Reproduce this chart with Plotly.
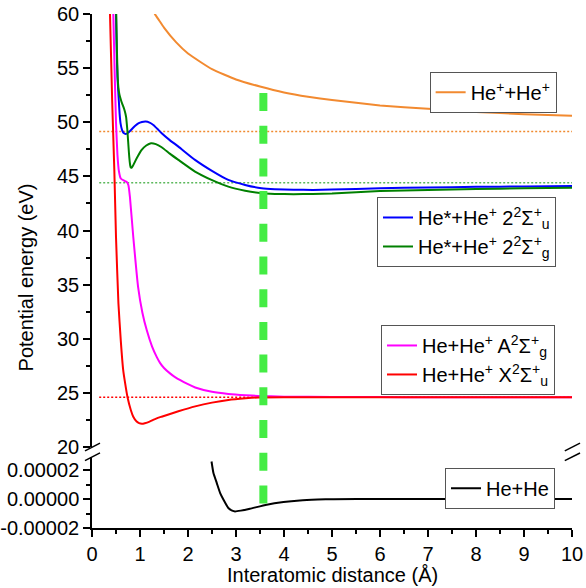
import plotly.graph_objects as go

# ---------------- data ----------------
# He+ + He+
x_ii = [1.25, 1.31, 1.4, 1.5, 1.75, 2.0, 2.5, 3.0, 3.5, 4.0, 4.5, 5.0, 6.0, 7.0, 8.0, 9.0, 10.0]
e_ii = [60.7, 60.0, 59.4, 58.75, 57.4, 56.35, 54.9, 53.95, 53.3, 52.75, 52.35, 52.05, 51.55, 51.25, 50.95, 50.75, 50.6]

# He* + He+ 2 2Sigma_u+
x_u2 = [0.49, 0.50, 0.515, 0.53, 0.545, 0.56, 0.575, 0.595, 0.625, 0.66, 0.702, 0.76, 0.827, 0.90, 0.965, 1.04, 1.118,
        1.20, 1.278, 1.36, 1.452, 1.62, 1.80, 2.146, 2.49, 2.84, 3.19, 3.535, 3.81, 4.2, 4.6, 5.0, 6.0, 7.0, 8.0, 9.0, 10.0]
e_u2 = [63, 60, 56.5, 54.2, 53.0, 51.9, 50.8, 49.9, 49.3, 49.0, 48.92, 49.05, 49.35, 49.68, 49.9, 50.02, 50.06,
        49.97, 49.75, 49.4, 48.98, 48.35, 47.75, 46.52, 45.53, 44.67, 44.21, 43.9, 43.81, 43.76, 43.75, 43.78, 43.9, 43.98, 44.03, 44.07, 44.1]

# He* + He+ 2 2Sigma_g+
x_g2 = [0.49, 0.505, 0.52, 0.535, 0.55, 0.57, 0.60, 0.63, 0.66, 0.685, 0.71, 0.736, 0.77, 0.79, 0.806, 0.825, 0.85,
        0.896, 0.96, 1.035, 1.13, 1.229, 1.33, 1.452, 1.62, 1.80, 2.146, 2.49, 2.84, 3.19, 3.535, 3.81, 4.2, 4.6,
        5.0, 6.0, 7.0, 8.0, 9.0, 10.0]
e_g2 = [63, 60, 56.5, 54.2, 53.2, 52.6, 52.1, 51.7, 51.35, 51.0, 50.5, 49.29, 47.14, 46.2, 45.81, 45.8, 45.95,
        46.36, 46.9, 47.44, 47.85, 48.06, 47.98, 47.69, 47.1, 46.52, 45.44, 44.67, 44.05, 43.68, 43.44, 43.38, 43.36, 43.38,
        43.42, 43.65, 43.75, 43.83, 43.9, 43.96]

# He + He+ A 2Sigma_g+
x_a = [0.42, 0.444, 0.47, 0.50, 0.53, 0.56, 0.60, 0.67, 0.72, 0.757, 0.79, 0.86, 0.96, 1.05, 1.14, 1.25,
       1.35, 1.42, 1.5, 1.625, 1.73, 2.0, 2.15, 2.5, 2.84, 3.2, 3.46, 4.0, 5.0, 6.0, 7.0, 8.0, 9.0, 10.0]
e_a = [63, 60, 55, 50, 47, 45.5, 44.8, 44.6, 44.5, 44.2, 43.1, 39.4, 34.8, 32.4, 30.8, 29.3,
       28.3, 27.75, 27.3, 26.8, 26.45, 25.8, 25.5, 25.1, 24.9, 24.78, 24.72, 24.65, 24.62, 24.61, 24.6, 24.6, 24.6, 24.6]

# He + He+ X 2Sigma_u+
x_x = [0.35, 0.375, 0.42, 0.465, 0.50, 0.55, 0.60, 0.65, 0.69, 0.74, 0.81, 0.86, 0.93, 0.98, 1.04, 1.10, 1.2, 1.3,
       1.45, 1.8, 2.15, 2.5, 2.84, 3.2, 3.46, 4.0, 5.0, 6.0, 7.0, 8.0, 9.0, 10.0]
e_x = [63, 60, 52, 45.6, 39.4, 33.3, 29.8, 27.1, 25.9, 24.6, 23.4, 22.8, 22.35, 22.2, 22.15, 22.2, 22.35, 22.55,
       22.8, 23.3, 23.75, 24.1, 24.35, 24.5, 24.58, 24.6, 24.6, 24.6, 24.6, 24.6, 24.6, 24.6]

# He + He (lower panel)
x_hh = [2.49, 2.53, 2.60, 2.67, 2.74, 2.84, 2.92, 2.98, 3.1, 3.29, 3.64, 3.99, 4.33, 4.7, 5.03, 6.0, 7.0, 8.0, 9.0, 10.0]
e_hh = [2.59e-5, 1.79e-5, 1.10e-5, 0.41e-5, -0.05e-5, -0.62e-5, -0.8e-5, -0.855e-5, -0.8e-5, -0.67e-5,
        -0.39e-5, -0.21e-5, -0.10e-5, -0.04e-5, -0.01e-5, 0, 0, 0, 0, 0]

# asymptotic levels (dotted) and marked distance (dashed)
levels = [49.15, 44.4, 24.6]
level_colors = ["#f08a30", "#5cb85c", "#ff0000"]
level_x = [0.15, 10.0]
r_mark = 3.57

names = [
    "He<sup>+</sup>+He<sup>+</sup>",
    "He*+He<sup>+</sup> 2<sup>2</sup>Σ<sup>+</sup><sub>u</sub>",
    "He*+He<sup>+</sup> 2<sup>2</sup>Σ<sup>+</sup><sub>g</sub>",
    "He+He<sup>+</sup> A<sup>2</sup>Σ<sup>+</sup><sub>g</sub>",
    "He+He<sup>+</sup> X<sup>2</sup>Σ<sup>+</sup><sub>u</sub>",
    "He+He",
]
colors = ["#f28a30", "#0000ff", "#008000", "#ff00ff", "#ff0000", "#000000"]

x_ticks = [0, 1, 2, 3, 4, 5, 6, 7, 8, 9, 10]
low_tickvals = [-2e-5, 0, 2e-5]
low_ticktext = ["-0.00002", "0.00000", "0.00002"]

FONT = "Liberation Sans, Arial, sans-serif"

# ---------------- figure ----------------
fig = go.Figure()
series = [
    (x_ii, e_ii, "y", "legend"),
    (x_u2, e_u2, "y", "legend2"),
    (x_g2, e_g2, "y", "legend2"),
    (x_a, e_a, "y", "legend3"),
    (x_x, e_x, "y", "legend3"),
    (x_hh, e_hh, "y2", "legend4"),
]
for (xs, ys, ya, lg), nm, c in zip(series, names, colors):
    fig.add_trace(go.Scatter(x=xs, y=ys, xaxis="x", yaxis=ya, mode="lines", name=nm,
                             legend=lg, line=dict(color=c, width=2, shape="spline", smoothing=0.4)))

H_TOP_DOMAIN = [0.1576, 1.0]
H_LOW_DOMAIN = [0.0, 0.1381]

axis_common = dict(showgrid=False, zeroline=False, showline=True, linecolor="black", linewidth=1.5,
                   tickcolor="black", tickwidth=1.5, automargin=False,
                   tickfont=dict(family=FONT, size=20, color="black"))

fig.update_layout(
    width=586, height=588, autosize=False,
    margin=dict(l=92, r=14, t=14, b=60, autoexpand=False),
    paper_bgcolor="white", plot_bgcolor="white",
    font=dict(family=FONT, size=20, color="black"),
    xaxis=dict(range=[0, 10], anchor="y2", domain=[0, 1], tickmode="array", tickvals=x_ticks,
               ticks="outside", ticklen=7,
               minor=dict(ticks="outside", ticklen=4, dtick=0.5, tick0=0, tickcolor="black", tickwidth=1.5),
               **axis_common),
    xaxis2=dict(range=[0, 10], overlaying="x", anchor="y", side="top", ticks="inside", ticklen=6,
                dtick=0.5, tick0=0, showticklabels=False, **axis_common),
    yaxis=dict(range=[20, 60], domain=H_TOP_DOMAIN, anchor="x", dtick=5, tick0=0, ticks="outside", ticklen=7,
               minor=dict(ticks="outside", ticklen=4, dtick=2.5, tick0=0, tickcolor="black", tickwidth=1.5),
               **axis_common),
    yaxis2=dict(range=[-2e-5, 2.9e-5], domain=H_LOW_DOMAIN, anchor="x", tickmode="array",
                tickvals=low_tickvals, ticktext=low_ticktext, ticks="outside", ticklen=7,
                minor=dict(ticks="outside", ticklen=4, tickmode="array", tickvals=[-1e-5, 1e-5],
                           tickcolor="black", tickwidth=1.5),
                **axis_common),
    yaxis3=dict(range=[20, 60], overlaying="y", anchor="x", side="right", ticks="inside", ticklen=6,
                dtick=2.5, tick0=0, showticklabels=False, **axis_common),
    yaxis4=dict(range=[-2e-5, 2.9e-5], overlaying="y2", anchor="x", side="right", ticks="inside", ticklen=6,
                dtick=1e-5, tick0=0, showticklabels=False, **axis_common),
    showlegend=True,
)

leg_common = dict(bgcolor="white", bordercolor="#555555", borderwidth=1, xanchor="right", yanchor="top",
                  font=dict(family=FONT, size=20, color="black"), tracegroupgap=0, itemwidth=30)
fig.update_layout(
    legend=dict(x=0.968, y=0.8877, **leg_common),
    legend2=dict(x=0.9667, y=0.644, **leg_common),
    legend3=dict(x=0.9646, y=0.395, **leg_common),
    legend4=dict(x=0.9646, y=0.1173, **leg_common),
)

# dotted asymptotic levels
for lv, lc in zip(levels, level_colors):
    fig.add_shape(type="line", xref="x", yref="y", x0=level_x[0], x1=level_x[1], y0=lv, y1=lv,
                  line=dict(color=lc, width=1.5, dash="2px,2px"), layer="below")

# marked distance (thick dashed green)
fig.add_shape(type="line", xref="x", yref="paper", x0=r_mark, x1=r_mark, y0=0.8463, y1=0.0447,
              line=dict(color="rgb(68,236,68)", width=8, dash="18px,14.7px"))

# axis break marks
for xa, xb in [(-0.0146, 0.0167), (0.985, 1.0167)]:
    for ya, yb in [(0.150, 0.165), (0.131, 0.146)]:
        fig.add_shape(type="line", xref="paper", yref="paper", x0=xa, x1=xb, y0=ya, y1=yb,
                      line=dict(color="black", width=1.5))

# axis titles
fig.add_annotation(text="Potential energy (eV)", xref="paper", yref="paper", x=-0.137, y=0.488,
                   textangle=-90, showarrow=False, xanchor="center", yanchor="middle",
                   font=dict(family=FONT, size=20, color="black"))
fig.add_annotation(text="Interatomic distance (Å)", xref="paper", yref="paper", x=0.5, y=-0.0914,
                   showarrow=False, xanchor="center", yanchor="middle",
                   font=dict(family=FONT, size=20, color="black"))

fig.write_html("out.html")
